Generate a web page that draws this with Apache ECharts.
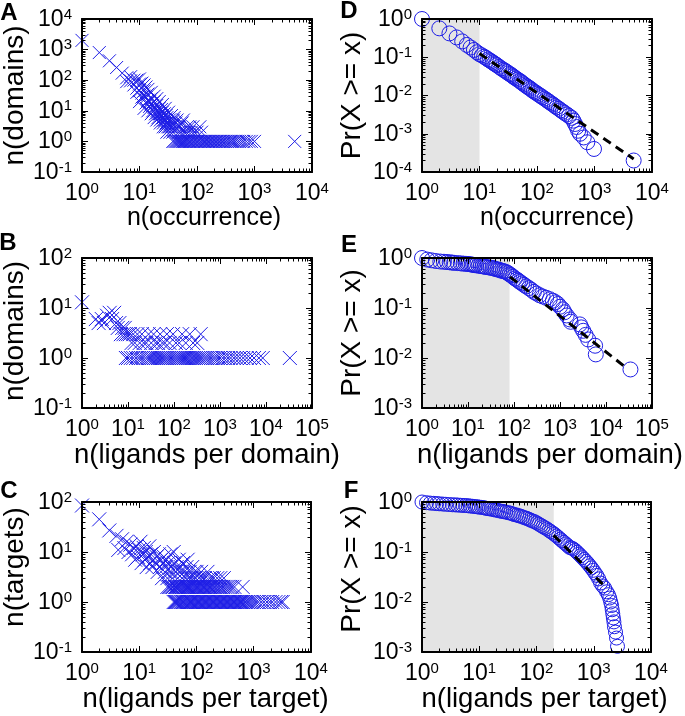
<!DOCTYPE html>
<html><head><meta charset="utf-8">
<script src="https://cdn.jsdelivr.net/npm/echarts@6/dist/echarts.min.js"></script>
<style>html,body{margin:0;padding:0;background:#fff}#c{width:685px;height:716px}</style>
</head><body><div id="c"></div>
<script>
// ---------- DATA ----------
// Panel A: n(domains) vs n(occurrence)
const occFreq = [[1,2000],[2,800],[3,430],[4,260],[5,170],[6,120],[7,95],[8,70],[9,55],[10,45],[11,38],[12,30],[13,27],[14,22],[15,20],[16,17],[17,15],[18,13],[19,11],[20,10],[21,9],[22,8],[23,8],[24,7],[25,6],[26,6],[27,5],[28,5],[29,4],[30,4],[32,4],[33,3],[35,3],[37,3],
[6,90],[7,130],[8,100],[9,40],[10,75],[11,28],[12,45],[13,18],[14,35],[15,14],[16,25],[17,10],[18,20],[19,8],[20,15],[21,6],[22,12],[23,5],[24,11],[25,9],[26,4],[27,8],[28,3],[29,7],[30,6],[31,3],[33,5],[34,2],[36,4],[38,2],[39,5],[41,3],[43,4],[46,3],[48,2],[50,3],[52,2],[55,4],[58,5],[60,2],[65,2],[68,3],[72,2],[75,3],[80,2],[85,3],[90,2],[100,2],[112,3],[120,2],
[9,100],[10,110],[11,80],[12,70],[13,60],[14,50],[16,40],[18,30],[20,25],[22,20],[25,16],[28,12],[32,9],[36,7],[40,6],[45,5],
[10,20],[12,12],[14,10],[16,8],[18,6],[20,5],[23,4],[26,3],[30,2]];
const occSingleX = [38,40,43,45,47,49,51,53,56,59,61,64,67,70,74,78,82,87,92,97,103,108,115,122,128,135,142,150,158,167,176,186,197,208,220,233,247,262,278,295,315,335,360,385,410,440,470,510,550,600,650,720,800,880,1000,5000];

// Panel D: CCDF of occurrence
const occCCDF = [[1,1.0],[2,0.57],[3,0.42],[4,0.33],[5,0.26],[6,0.21],[7,0.18],[8,0.155],[9,0.135],[10,0.12],[11,0.112],[12,0.103],[13,0.096],[14,0.088],[15,0.083],[16,0.078],[17,0.073],[18,0.069],[19,0.065],[20,0.062],[22,0.056],[24,0.051],[26,0.047],[28,0.044],[30,0.041],[32,0.038],[34,0.036],[36,0.034],[38,0.032],[40,0.030],[43,0.028],[46,0.026],[50,0.024],[53,0.0225],[56,0.021],[60,0.0195],[64,0.018],[68,0.017],[72,0.016],[77,0.015],[82,0.0138],[88,0.0128],[94,0.012],[100,0.0113],[108,0.0104],[116,0.0097],[125,0.009],[135,0.0083],[145,0.0077],[155,0.0072],[165,0.0067],[178,0.0062],[190,0.0058],[205,0.0053],[220,0.0049],[240,0.0045],[260,0.0041],[280,0.0038],[300,0.0035],[330,0.0032],[360,0.0029],[400,0.0026],[430,0.0022],[460,0.0018],[490,0.0015],[520,0.0012],[560,0.001],[650,0.0008],[750,0.0006],[980,0.0004],[4800,0.0002]];
const occFit = [[10,0.125],[4800,0.00022]];
const occShade = [1,10];

// Panel B: n(domains) vs n(ligands per domain)
const ligDomFreq = [[1,13],[2,6],[2.3,5],[2.7,6],[3,5],[3.5,7],[4,8],[4.5,6],[5,8],[5.5,5],[6,4],[6.5,5],[7,3],[7.5,4],[8,3],[8.5,4],[9,3],[10,3],[11,3],[12,2],[13,3],[14,2],[16,3],[18,2],[20,3],[22,2],[25,2],[28,3],[32,2],[36,3],[40,2],[45,2],[50,3],[56,2],[63,2],[70,3],[80,2],[95,3],[110,2],[130,2],[150,3],[180,2],[220,3],[260,2],[320,2],[380,3]];
const ligDomSingleX = [9,10,11.5,13,15,17,19,21,24,27,30,33,37,41,45,50,55,60,66,72,79,86,94,103,113,124,136,150,165,182,200,220,245,270,300,335,370,410,460,510,570,640,720,800,900,1000,1150,1300,1500,1700,2000,2300,2700,3200,3800,4500,5500,7000,8500,33000];

// Panel E: CCDF of ligands per domain
const ligDomCCDF = [[1,1.0],[1.3,0.93],[1.6,0.9],[2,0.87],[2.5,0.85],[3,0.84],[3.5,0.83],[4,0.82],[4.5,0.81],[5,0.8],[6,0.79],[7,0.78],[8,0.77],[9,0.765],[10,0.76],[11,0.75],[12,0.74],[13,0.73],[14,0.72],[15,0.715],[17,0.7],[19,0.69],[21,0.68],[23,0.67],[25,0.66],[28,0.65],[31,0.64],[34,0.63],[37,0.62],[40,0.6],[44,0.59],[48,0.58],[52,0.56],[57,0.55],[62,0.54],[68,0.52],[74,0.5],[80,0.47],[87,0.45],[95,0.42],[105,0.39],[115,0.37],[125,0.35],[135,0.33],[150,0.31],[165,0.29],[185,0.27],[210,0.25],[240,0.23],[270,0.21],[310,0.195],[360,0.18],[420,0.17],[500,0.16],[600,0.15],[700,0.14],[800,0.13],[900,0.12],[1000,0.106],[1150,0.094],[1250,0.082],[1400,0.071],[1650,0.059],[1700,0.053],[2700,0.047],[2900,0.041],[3200,0.035],[3600,0.029],[4100,0.0235],[5800,0.0176],[6000,0.0118],[34000,0.0059]];
const ligDomFit = [[82,0.42],[28000,0.0063]];
const ligDomShade = [1,80];

// Panel C: n(targets) vs n(ligands per target)
const ligTgtFreq = [[1,85],[2,45],[3,27],[4,21],[4.3,11],[5,18],[5.5,12],[6,16],[6.5,10],[7,14],[7.5,9],[8,12],[8.5,7],[9,13],[9.5,8],[10,11],[10.5,16],[11,6],[11.5,9],[12,12],[12.5,7],[13,10],[13.5,5],[14,8],[15,13],[15.5,6],[16,9],[17,5],[17.5,7],[18,10],[19,6],[20,8],[21,4],[22,9],[23,5],[24,7],[25,3],[26,6],[27,8],[28,4],[29,5],[30,7],[31,3],[32,6],[34,4],[35,9],[36,5],[38,3],[40,10],[41,6],[43,4],[45,5],[47,3],[49,7],[51,4],[53,5],[56,3],[58,6],[61,4],[64,3],[67,5],[70,7],[73,3],[76,4],[80,3],[84,5],[88,3],[92,4],[96,3],[100,4],[110,3],[120,4],[130,3],[140,3],[155,4],[170,3],[185,3],[200,3],[230,3],[260,3],[300,3]];
const ligTgtDoubleX = [31,33,35,37,39,42,44,46,48,50,52,55,57,60,62,65,68,71,74,78,81,85,89,93,97,102,107,112,117,123,129,135,142,149,156,164,172,181,190,200,212,225,240,255,270,290,310,335,360,390,420,460,640];
const ligTgtSingleX = [40,42,44,46,48,50,53,55,58,61,64,67,70,73,77,80,84,88,92,97,101,106,111,116,122,128,134,140,147,154,161,169,177,185,194,203,213,223,234,245,257,269,282,296,310,325,340,357,374,392,411,431,452,474,497,521,546,573,600,630,660,700,740,790,850,920,1000,1100,1200,1350,1500,1700,1900,2100,2400,2700,3000,3200];

// Panel F: CCDF of ligands per target
const ligTgtCCDF = [[1,1.0],[1.2,0.97],[1.4,0.95],[1.6,0.94],[1.8,0.93],[2,0.92],[2.3,0.91],[2.6,0.9],[3,0.89],[3.4,0.88],[3.8,0.875],[4.2,0.87],[4.7,0.86],[5.2,0.855],[5.8,0.85],[6.4,0.84],[7,0.83],[7.7,0.82],[8.5,0.81],[9.3,0.8],[10,0.79],[11,0.78],[12,0.77],[13,0.75],[14,0.74],[15,0.73],[16.5,0.72],[18,0.7],[19.5,0.69],[21,0.68],[23,0.66],[25,0.65],[27,0.64],[29,0.63],[32,0.61],[35,0.6],[38,0.58],[41,0.56],[45,0.55],[49,0.53],[53,0.52],[58,0.5],[63,0.48],[68,0.47],[74,0.45],[80,0.43],[87,0.415],[94,0.4],[102,0.38],[110,0.36],[120,0.34],[130,0.32],[140,0.305],[152,0.29],[165,0.27],[178,0.255],[192,0.24],[207,0.225],[223,0.21],[240,0.195],[260,0.18],[280,0.168],[300,0.156],[325,0.145],[350,0.134],[380,0.123],[410,0.12],[440,0.115],[475,0.107],[510,0.099],[550,0.091],[590,0.084],[635,0.077],[680,0.071],[730,0.065],[790,0.059],[850,0.053],[910,0.048],[980,0.043],[1050,0.038],[1130,0.034],[1220,0.029],[1320,0.024],[1430,0.021],[1550,0.019],[1680,0.016],[1800,0.014],[1900,0.012],[1980,0.01],[2050,0.0085],[2100,0.007],[2150,0.0058],[2200,0.0048],[2250,0.004],[2300,0.0032],[2400,0.0025],[2500,0.0019],[2600,0.0013]];
const ligTgtFit = [[200,0.215],[1600,0.02]];
const ligTgtShade = [1,200];

// ---------- BUILD ----------
const FONT = "Liberation Sans";
const BLUE = '#1e1ee6';
const CROSS = 'path://M0,0L10,10M10,0L0,10';

const panels = [
  {letter:'A', lx:9, ly:13, grid:{left:82,top:19,width:230,height:153}, xr:[1,1e4], yr:[0.1,1e4],
   xName:'n(occurrence)', xNameSize:25, xNameGap:32, xShift:7, yName:'n(domains)', yNameGap:52, yShift:0,
   marker:'cross', size:13, data: occFreq.concat(occSingleX.map(x=>[x,1]))},
  {letter:'D', lx:349, ly:11, grid:{left:422,top:19,width:230,height:153}, xr:[1,1e4], yr:[1e-4,1],
   xName:'n(occurrence)', xNameSize:25, xNameGap:25, xShift:20, yName:'Pr(X >= x)', yNameGap:56, yShift:0,
   marker:'circle', size:15, data: occCCDF, fit: occFit, shade: occShade},
  {letter:'B', lx:8, ly:243, grid:{left:82,top:258,width:230,height:150}, xr:[1,1e5], yr:[0.1,100],
   xName:'n(ligands per domain)', xNameSize:27.5, xNameGap:26, xShift:10, yName:'n(domains)', yNameGap:53, yShift:2,
   marker:'cross', size:14, data: ligDomFreq.concat(ligDomSingleX.map(x=>[x,1]))},
  {letter:'E', lx:349, ly:245, grid:{left:422,top:258,width:230,height:150}, xr:[1,1e5], yr:[1e-3,1],
   xName:'n(ligands per domain)', xNameSize:27.5, xNameGap:20, xShift:13, yName:'Pr(X >= x)', yNameGap:56, yShift:0,
   marker:'circle', size:15, data: ligDomCCDF, fit: ligDomFit, shade: ligDomShade},
  {letter:'C', lx:9, ly:491, grid:{left:82,top:502,width:229,height:150}, xr:[1,1e4], yr:[0.1,100],
   xName:'n(ligands per target)', xNameSize:27.5, xNameGap:22, xShift:9, yName:'n(targets)', yNameGap:53, yShift:10,
   marker:'cross', size:14, data: ligTgtFreq.concat(ligTgtDoubleX.map(x=>[x,2]), ligTgtSingleX.map(x=>[x,1]))},
  {letter:'F', lx:351, ly:491, grid:{left:422,top:502,width:229,height:150}, xr:[1,1e4], yr:[1e-3,1],
   xName:'n(ligands per target)', xNameSize:27.5, xNameGap:22, xShift:8, yName:'Pr(X >= x)', yNameGap:56, yShift:8,
   marker:'circle', size:14, data: ligTgtCCDF, fit: ligTgtFit, shade: ligTgtShade}
];

function minorTicks(lo, hi){
  const out=[]; const a=Math.round(Math.log10(lo)), b=Math.round(Math.log10(hi));
  for(let e=a;e<b;e++){ for(let m=2;m<=9;m++){ out.push(parseFloat((m*Math.pow(10,e)).toPrecision(6))); } }
  return out;
}
const rich = {
  b:{fontSize:23, lineHeight:24, fontFamily:FONT, color:'#000', verticalAlign:'bottom'},
  s:{fontSize:15, lineHeight:8, fontFamily:FONT, color:'#000', verticalAlign:'top'}
};
const fmt = v => '{b|10}{s|' + Math.round(Math.log10(v)) + '}';
const lineSt = {show:true, onZero:false, lineStyle:{color:'#000', width:2}};
const tickSt = (len, custom) => { const t={show:true, inside:true, length:len, lineStyle:{color:'#000', width:1}}; if(custom) t.customValues=custom; return t; };

const grids=[], xAxes=[], yAxes=[], series=[], graphics=[];
panels.forEach((p,i)=>{
  grids.push(Object.assign({containLabel:false, outerBoundsMode:'none'}, p.grid));
  const xm = minorTicks(p.xr[0],p.xr[1]), ym = minorTicks(p.yr[0],p.yr[1]);
  const xb = {type:'log', logBase:10, gridIndex:i, min:p.xr[0], max:p.xr[1], z:5, splitLine:{show:false}, minorTick:{show:false}};
  const yb = {type:'log', logBase:10, gridIndex:i, min:p.yr[0], max:p.yr[1], z:5, splitLine:{show:false}, minorTick:{show:false}};
  xAxes.push(Object.assign({}, xb, {position:'bottom', axisLine:lineSt, axisTick:tickSt(6),
      axisLabel:{show:true, margin:9, formatter:fmt, rich:rich, showMinLabel:true, showMaxLabel:true, hideOverlap:false},
      name:p.xName, nameLocation:'middle', nameGap:p.xNameGap,
      nameTextStyle:{fontSize:p.xNameSize, lineHeight:p.xNameSize, fontFamily:FONT, color:'#000', padding:[0,0,0,2*p.xShift]}}));
  xAxes.push(Object.assign({}, xb, {position:'top', axisLine:lineSt, axisTick:tickSt(6), axisLabel:{show:false}}));
  xAxes.push(Object.assign({}, xb, {position:'bottom', axisLine:{show:false}, axisTick:tickSt(3.5, xm), axisLabel:{show:false}}));
  xAxes.push(Object.assign({}, xb, {position:'top', axisLine:{show:false}, axisTick:tickSt(3.5, xm), axisLabel:{show:false}}));
  yAxes.push(Object.assign({}, yb, {position:'left', axisLine:lineSt, axisTick:tickSt(6),
      axisLabel:{show:true, margin:10, formatter:fmt, rich:rich, showMinLabel:true, showMaxLabel:true, hideOverlap:false},
      name:p.yName, nameLocation:'middle', nameGap:p.yNameGap,
      nameTextStyle:{fontSize:28, lineHeight:28, fontFamily:FONT, color:'#000', padding:[0,0,0,2*p.yShift]}}));
  yAxes.push(Object.assign({}, yb, {position:'right', axisLine:lineSt, axisTick:tickSt(6), axisLabel:{show:false}}));
  yAxes.push(Object.assign({}, yb, {position:'left', axisLine:{show:false}, axisTick:tickSt(3.5, ym), axisLabel:{show:false}}));
  yAxes.push(Object.assign({}, yb, {position:'right', axisLine:{show:false}, axisTick:tickSt(3.5, ym), axisLabel:{show:false}}));

  const sc = {type:'scatter', xAxisIndex:4*i, yAxisIndex:4*i, data:p.data, silent:true, z:2,
    symbol: p.marker==='cross' ? CROSS : 'circle', symbolSize:p.size,
    itemStyle:{color:'rgba(0,0,0,0)', borderColor:BLUE, borderWidth:1, opacity:1}};
  if(p.shade){
    sc.markArea = {silent:true, z:1, itemStyle:{color:'#e4e4e4', borderWidth:0},
      data:[[{xAxis:p.shade[0]},{xAxis:p.shade[1]}]]};
  }
  series.push(sc);
  if(p.fit){
    series.push({type:'line', xAxisIndex:4*i, yAxisIndex:4*i, data:p.fit, symbol:'none', silent:true, z:3,
      lineStyle:{color:'#000', width:3, type:[9,6]}});
  }
  graphics.push({type:'text', x:p.lx, y:p.ly, style:{text:p.letter, fontSize:24, fontWeight:'bold', fontFamily:FONT, fill:'#000', align:'center', verticalAlign:'middle'}});
});

const chart = echarts.init(document.getElementById('c'), null, {renderer:'canvas'});
chart.setOption({
  animation:false, backgroundColor:'#fff',
  grid:grids, xAxis:xAxes, yAxis:yAxes, series:series, graphic:graphics
});
</script></body></html>
